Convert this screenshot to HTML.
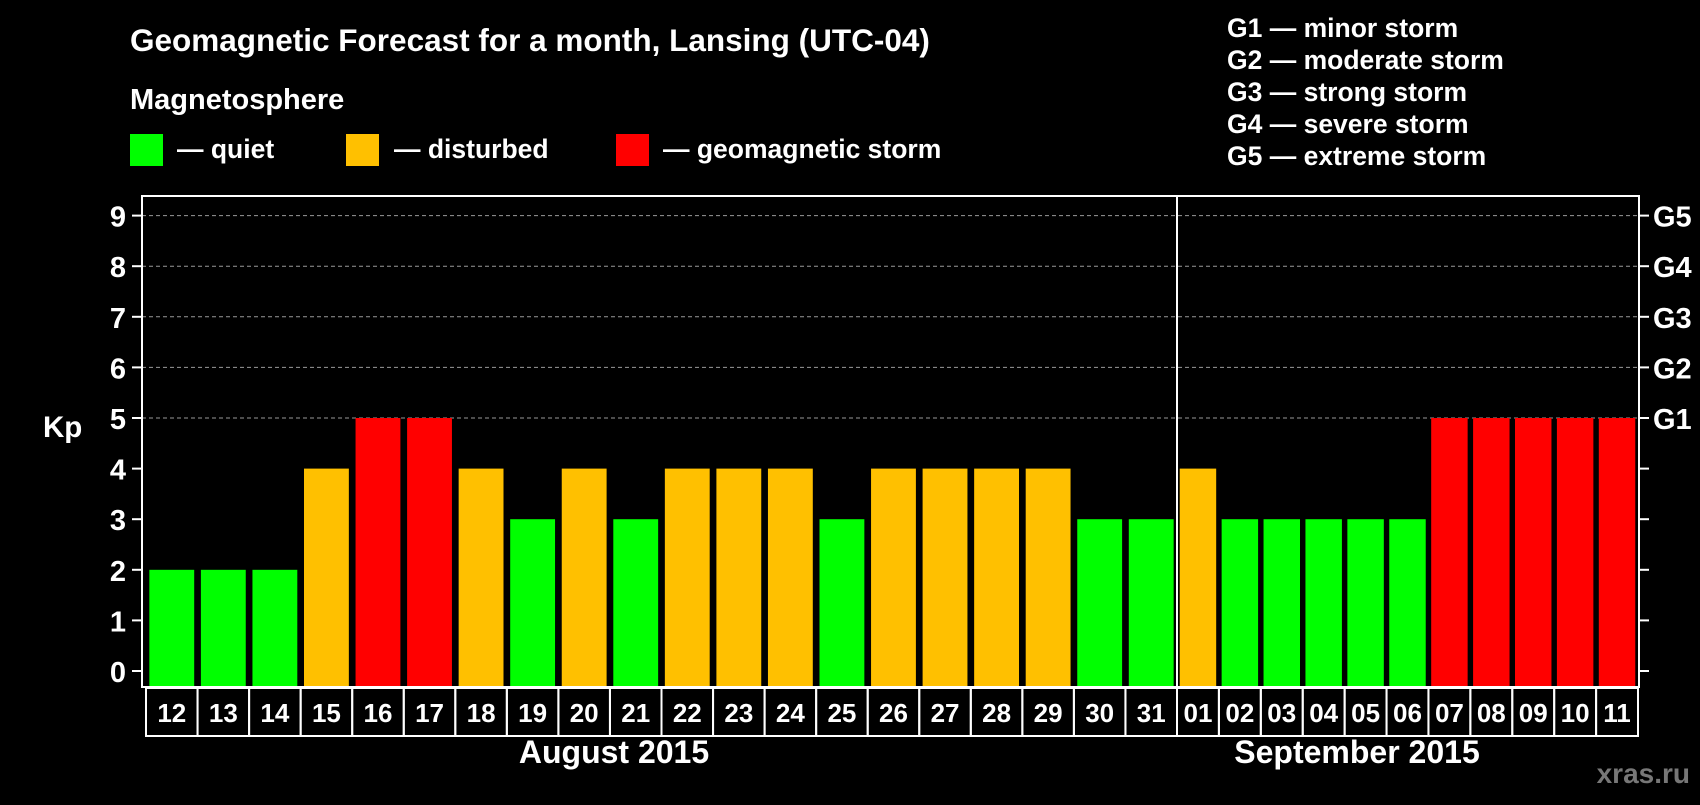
<!DOCTYPE html>
<html><head><meta charset="utf-8"><style>
body{margin:0;background:#000;width:1700px;height:800px;overflow:hidden;font-family:"Liberation Sans",sans-serif;font-weight:bold;color:#fff}
</style></head><body>
<svg width="1700" height="800" xmlns="http://www.w3.org/2000/svg" font-family="Liberation Sans, sans-serif" font-weight="bold">
<rect width="1700" height="800" fill="#000"/>
<text x="130" y="51" font-size="31.5" fill="#fff">Geomagnetic Forecast for a month, Lansing (UTC-04)</text>
<text x="130" y="109" font-size="29" fill="#fff">Magnetosphere</text>
<rect x="130" y="134" width="33" height="32" fill="#00ff00"/>
<text x="177" y="158" font-size="26.5" fill="#fff">— quiet</text>
<rect x="346" y="134" width="33" height="32" fill="#ffc000"/>
<text x="394" y="158" font-size="26.5" fill="#fff">— disturbed</text>
<rect x="616" y="134" width="33" height="32" fill="#ff0000"/>
<text x="663" y="158" font-size="26.5" fill="#fff">— geomagnetic storm</text>
<g font-size="26.5" fill="#fff">
<text x="1227" y="37">G1 — minor storm</text>
<text x="1227" y="69">G2 — moderate storm</text>
<text x="1227" y="101">G3 — strong storm</text>
<text x="1227" y="133">G4 — severe storm</text>
<text x="1227" y="165">G5 — extreme storm</text>
</g>
<text x="43" y="437" font-size="29.5" fill="#fff">Kp</text>
<g id="chart"></g>
<text x="614" y="763" font-size="32" fill="#fff" text-anchor="middle">August 2015</text>
<text x="1357" y="763" font-size="32" fill="#fff" text-anchor="middle">September 2015</text>
<text x="1690" y="783" font-size="28" fill="#777" text-anchor="end">xras.ru</text>
</svg>
<script>
const days=["12","13","14","15","16","17","18","19","20","21","22","23","24","25","26","27","28","29","30","31","01","02","03","04","05","06","07","08","09","10","11"];
const kp=[2,2,2,4,5,5,4,3,4,3,4,4,4,3,4,4,4,4,3,3,4,3,3,3,3,3,5,5,5,5,5];
const yTicks=[0,1,2,3,4,5,6,7,8,9];
const gLabels=["G1","G2","G3","G4","G5"];
const NS="http://www.w3.org/2000/svg";
const g=document.getElementById('chart');
const L=142,R=1639,T=196,B=687,X0=146,XS=1177,XE=1638,nAug=20;
function y(v){return 671-v*50.6;}
function slot(i){if(i<nAug){const w=(XS-X0)/nAug;return [X0+i*w,w];}const w=(XE-XS)/(days.length-nAug);return [XS+(i-nAug)*w,w];}
function color(v){return v>=5?"#ff0000":v>=4?"#ffc000":"#00ff00";}
function mk(t,a){const e=document.createElementNS(NS,t);for(const k in a)e.setAttribute(k,a[k]);g.appendChild(e);return e;}
yTicks.forEach(v=>{
 if(v>=5){const l=mk('line',{x1:L,x2:R,y1:y(v),y2:y(v),stroke:'#999','stroke-dasharray':'4,3','stroke-width':1});
 
 }
 const t1=mk('line',{x1:L-10,x2:L,y1:y(v),y2:y(v),stroke:'#fff','stroke-width':2});
 
 
 const t2=mk('line',{x1:R,x2:R+10,y1:y(v),y2:y(v),stroke:'#fff','stroke-width':2});
 
 
 const tx=mk('text',{x:L-16,y:y(v)+11,'font-size':29,fill:'#fff','text-anchor':'end'});tx.textContent=v;
 
 
});
gLabels.forEach((s,i)=>{const t=mk('text',{x:R+14,y:y(i+5)+11,'font-size':29,fill:'#fff'});t.textContent=s;
 
 });
kp.forEach((v,i)=>{const [x,w]=slot(i);const ins=w*0.065;
 const b=mk('rect',{x:x+ins,y:y(v),width:w-2*ins,height:B-y(v),fill:color(v)});
 
 
 const c=mk('rect',{x:x,y:B+1,width:w,height:48,fill:'none',stroke:'#fff','stroke-width':2});
 
 
 const t=mk('text',{x:x+w/2,y:B+35,'font-size':26,fill:'#fff','text-anchor':'middle'});t.textContent=days[i];
 
 
});
const f=mk('rect',{x:L,y:T,width:R-L,height:B-T,fill:'none',stroke:'#fff','stroke-width':2});


const s=mk('line',{x1:XS,x2:XS,y1:T,y2:B,stroke:'#fff','stroke-width':2});


</script>
</body></html>
